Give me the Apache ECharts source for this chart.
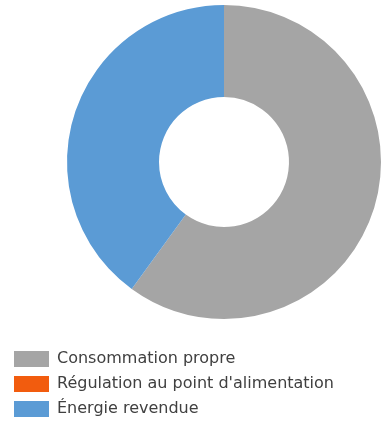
<!DOCTYPE html>
<html>
<head>
<meta charset="utf-8">
<style>
  html, body { margin: 0; padding: 0; background: #fff; }
  #chart { width: 384px; height: 421px; }
</style>
<script src="https://cdn.jsdelivr.net/npm/echarts@6/dist/echarts.min.js"></script>
</head>
<body>
<div id="chart"></div>
<script>
// catégories et valeurs (en %)
var categories = ["Consommation propre", "Régulation au point d'alimentation", "Énergie revendue"];
var values = [60, 0, 40];
var colors = ["#a5a5a5", "#f25c0e", "#5b9bd5"];

var pieData = [];
for (var i = 0; i < categories.length; i++) {
  pieData.push({ name: categories[i], value: values[i] });
}

var myChart = echarts.init(document.getElementById("chart"));
var option = {
  animation: false,
  color: colors,
  legend: {
    orient: "vertical",
    left: 14,
    top: 351,
    height: 70,
    padding: 0,
    itemWidth: 35,
    itemHeight: 16,
    itemGap: 9,
    icon: "rect",
    data: categories,
    textStyle: {
      fontFamily: "DejaVu Sans",
      fontSize: 16,
      color: "#404040",
      padding: [0, 0, 0, 3]
    }
  },
  series: [
    {
      type: "pie",
      center: [224, 162],
      radius: [65, 157],
      startAngle: 90,
      clockwise: true,
      silent: true,
      label: { show: false },
      labelLine: { show: false },
      data: pieData
    }
  ]
};
myChart.setOption(option);
</script>
</body>
</html>
